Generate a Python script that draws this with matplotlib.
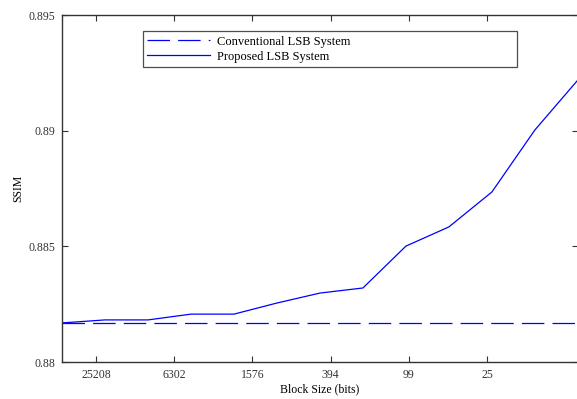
import matplotlib
matplotlib.use("Agg")
import matplotlib.pyplot as plt
import numpy as np

# block sizes shown on the x axis
tick_labels = ["25208", "6302", "1576", "394", "99", "25"]

# SSIM, 13 samples
proposed = [0.88169, 0.88182, 0.88182, 0.88207, 0.88207, 0.88255, 0.88298,
            0.88320, 0.88501, 0.88584, 0.88735, 0.89003, 0.89219]
conventional = [0.88169] * 13

plt.rcParams['font.family'] = ['Liberation Serif', 'DejaVu Serif']

fig = plt.figure(figsize=(5.77, 3.99), dpi=100)
ax = fig.add_axes([0.1075, 0.0927, 0.894, 0.8697])

x = np.arange(1, len(proposed) + 1)
ax.plot(x, conventional, color='b', lw=0.9, dashes=(18, 6.5),
        label="Conventional LSB System")
ax.plot(x, proposed, color='b', lw=0.9, label="Proposed LSB System")

ax.set_xlim(1, 13)
ax.set_ylim(0.88, 0.895)
ax.set_yticks([0.88, 0.885, 0.89, 0.895])
ax.set_yticklabels(["0.88", "0.885", "0.89", "0.895"])
ax.set_xticks(1.79 + 1.82 * np.arange(len(tick_labels)))
ax.set_xticklabels(tick_labels)

ax.tick_params(direction='in', length=4, width=0.8, top=True, right=True,
               labelsize=8.5, colors='#333333', pad=5)
for s in ax.spines.values():
    s.set_color('#333333')
    s.set_linewidth(1.0)

ax.set_xlabel("Block Size (bits)", fontsize=8.5, labelpad=2)
ax.set_ylabel("SSIM", fontsize=8.5, labelpad=3)

leg = ax.legend(loc='lower left', bbox_to_anchor=(0.157, 0.850, 0.725, 0.101),
                mode='expand', fontsize=9, frameon=True, fancybox=False,
                handlelength=5.0, handletextpad=0.55, borderpad=0.35,
                labelspacing=0.25, borderaxespad=0)
leg.get_frame().set_edgecolor('#222222')
leg.get_frame().set_linewidth(0.9)

fig.savefig("out.png", dpi=100)
